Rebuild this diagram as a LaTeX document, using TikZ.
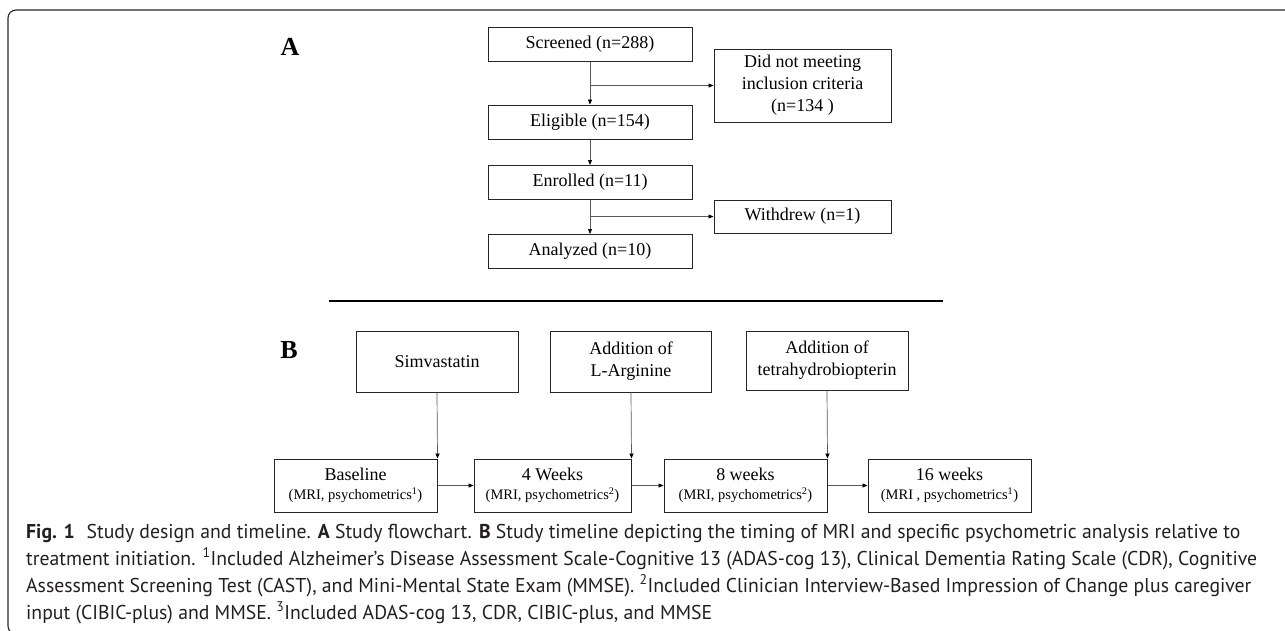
\documentclass[tikz,border=0pt]{standalone}
\usepackage{fontspec}
\usepackage{graphicx}
\setmainfont{Liberation Serif}
\newfontfamily\capfont{PT Sans}
\usetikzlibrary{arrows.meta}
\definecolor{capgray}{HTML}{231F20}
\begin{document}
\begin{tikzpicture}[x=1pt,y=-1pt,
  box/.style={draw=black!85, line width=1pt, inner sep=0pt, align=center,
              font=\fontsize{18}{22}\selectfont},
  conn/.style={draw=black!65, line width=0.7pt},
  arr/.style={conn, -{Triangle[length=5pt,width=4pt,color=black]}},
  panel/.style={font=\fontsize{26}{26}\selectfont\bfseries, inner sep=0pt}
]
\useasboundingbox (0,0) rectangle (1285,630);
\draw[line width=1.1pt, rounded corners=8pt, black!85] (1300,10) -- (8,10) -- (8,634) -- (1300,634);

% Panel A
\node[panel] (lblA) at (290,47) {A};
\node[box, minimum width=204pt, minimum height=34pt] (scr) at (590,44) {Screened (n=288)};
\node[box, minimum width=204pt, minimum height=34pt] (eli) at (590,122) {Eligible (n=154)};
\node[box, minimum width=204pt, minimum height=34pt] (enr) at (590,182.5) {Enrolled (n=11)};
\node[box, minimum width=204pt, minimum height=34pt] (ana) at (590,251.5) {Analyzed (n=10)};
\node[box, minimum width=177pt, minimum height=73pt] (excl) at (802.5,85.5) {Did not meeting\\inclusion criteria\\(n=134 )};
\node[box, minimum width=177pt, minimum height=33pt] (wd) at (802.5,216.5) {Withdrew (n=1)};
\coordinate (b1) at (scr.south |- excl.west);
\coordinate (b2) at (enr.south |- wd.west);
\draw[arr] (scr.south) -- (eli.north);
\draw[arr] (b1) -- (excl.west);
\draw[arr] (eli.south) -- (enr.north);
\draw[arr] (enr.south) -- (ana.north);
\draw[arr] (b2) -- (wd.west);

\draw[line width=1.4pt, black] (329,301) -- (943,301);

% Panel B
\node[panel] (lblB) at (289,350) {B};
\node[box, minimum width=163pt, minimum height=53pt] (base) at (355.5,485.5)
  {Baseline\\[-3pt]{\fontsize{14.5}{16}\selectfont (MRI, psychometrics\textsuperscript{1})}};
\node[box, minimum width=157pt, minimum height=53pt] (w4) at (552.5,485.5)
  {4 Weeks\\[-3pt]{\fontsize{14.5}{16}\selectfont (MRI, psychometrics\textsuperscript{2})}};
\node[box, minimum width=163pt, minimum height=53pt] (w8) at (745.5,485.5)
  {8 weeks\\[-3pt]{\fontsize{14.5}{16}\selectfont (MRI, psychometrics\textsuperscript{2})}};
\node[box, minimum width=163pt, minimum height=53pt] (w16) at (949.5,485.5)
  {16 weeks\\[-3pt]{\fontsize{14.5}{16}\selectfont (MRI , psychometrics\textsuperscript{1})}};
\node[box, minimum width=162pt, minimum height=61pt] (sim) at (437,361.5) {Simvastatin};
\node[box, minimum width=161pt, minimum height=61pt] (larg) at (631,361.5) {Addition of\\L-Arginine};
\node[box, minimum width=162pt, minimum height=59pt] (tet) at (827,360.5) {Addition of\\tetrahydrobiopterin};
\draw[arr] (sim.south) -- (base.north east);
\draw[arr] (larg.south) -- (w4.north east);
\draw[arr] (tet.south) -- (w8.north east);
\draw[arr] (base.east) -- (w4.west);
\draw[arr] (w4.east) -- (w8.west);
\draw[arr] (w8.east) -- (w16.west);

% Caption
\node[anchor=north west, inner sep=0pt, text=capgray] (cap) at (26,519)
 {\resizebox{1231pt}{\height}{\capfont\fontsize{20}{27}\selectfont
  \begin{tabular}{@{}l@{}}
  \textbf{Fig. 1}\hspace{0.6em}Study design and timeline. \textbf{A} Study flowchart. \textbf{B} Study timeline depicting the timing of MRI and specific psychometric analysis relative to\\
  treatment initiation. \textsuperscript{1}Included Alzheimer’s Disease Assessment Scale-Cognitive 13 (ADAS-cog 13), Clinical Dementia Rating Scale (CDR), Cognitive\\
  Assessment Screening Test (CAST), and Mini-Mental State Exam (MMSE). \textsuperscript{2}Included Clinician Interview-Based Impression of Change plus caregiver\\
  input (CIBIC-plus) and MMSE. \textsuperscript{3}Included ADAS-cog 13, CDR, CIBIC-plus, and MMSE
  \end{tabular}}};
\end{tikzpicture}
\end{document}
